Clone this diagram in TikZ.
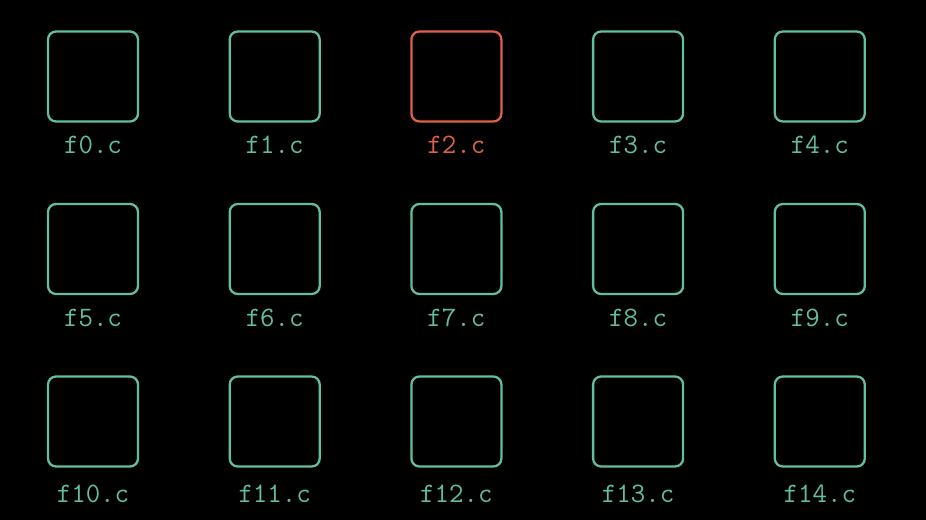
\documentclass[tikz,border=0pt]{standalone}
\usetikzlibrary{positioning}

\definecolor{filegreen}{RGB}{98,190,163}
\definecolor{filered}{RGB}{222,96,74}

\begin{document}
\begin{tikzpicture}[
    x=0.02cm, y=-0.02cm,
    file/.style={rectangle, draw=filegreen, line width=1.3pt, rounded corners=0.16cm, minimum width=1.8cm, minimum height=1.8cm, inner sep=0pt},
    fname/.style={text=filegreen, font=\fontsize{16}{18}\selectfont\ttfamily, inner sep=0pt},
    hot/.style={draw=filered, text=filered},
]

% Background
\fill[black] (0,0) rectangle (926,520);

% Files
\foreach \i in {0,...,14} {
    \pgfmathtruncatemacro{\col}{mod(\i,5)}
    \pgfmathtruncatemacro{\row}{div(\i,5)}
    \pgfmathsetmacro{\bx}{93+181.7*\col}
    \pgfmathsetmacro{\by}{76.5+172.5*\row}
    \pgfmathsetmacro{\ly}{{145,318,494}[\row]}
    \ifnum\i=2
        \node[file, hot] (f\i) at (\bx,\by) {};
        \node[fname, text=filered] (n\i) at (\bx,\ly) {f\i.c};
    \else
        \node[file] (f\i) at (\bx,\by) {};
        \node[fname] (n\i) at (\bx,\ly) {f\i.c};
    \fi
}

\end{tikzpicture}
\end{document}
